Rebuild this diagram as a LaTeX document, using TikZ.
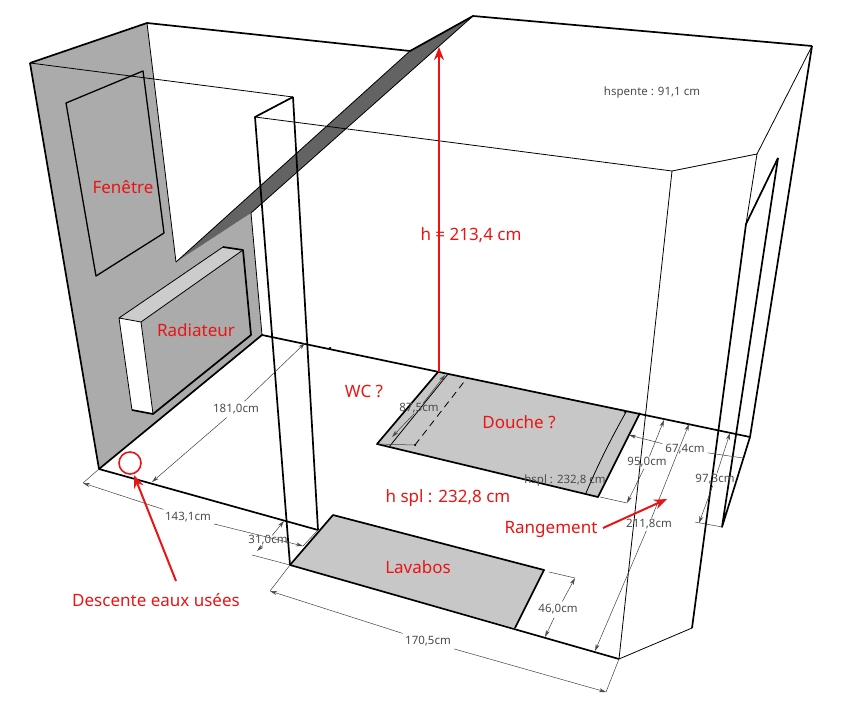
\documentclass[tikz,border=0pt]{standalone}
\usepackage{fontspec}
\setmainfont{Noto Sans}
\usetikzlibrary{arrows.meta}
\definecolor{wallgrey}{gray}{0.67}
\definecolor{floorgrey}{gray}{0.78}
\definecolor{slopegrey}{gray}{0.39}
\definecolor{lightgrey}{gray}{0.80}
\definecolor{dimtext}{gray}{0.30}
\definecolor{redmark}{RGB}{235,20,20}
\tikzset{
  thickline/.style={line width=1.7pt,black,line join=round},
  thinline/.style={line width=0.8pt,black},
  dimline/.style={line width=0.5pt,black!75,-{Stealth[length=7pt,width=4pt,black!70]}},
  extline/.style={line width=0.5pt,black!75},
  redlabel/.style={text=redmark,font=\fontsize{17}{20}\selectfont,inner sep=0pt},
  dimlabel/.style={text=dimtext,font=\fontsize{11.5}{14}\selectfont,inner sep=3pt,yshift=-1.5pt},
  redarrow/.style={line width=2pt,redmark,-{Stealth[length=13pt,width=10pt]}},
  tickdot/.style={circle,fill=black,inner sep=0pt,minimum size=2.5pt}
}
\begin{document}
\begin{tikzpicture}[x=1pt,y=-1pt]
\useasboundingbox (0,0) rectangle (853,703);
% corner points
\coordinate (wa) at (30,63);
\coordinate (wb) at (147,23);
\coordinate (notch) at (176,262);
\coordinate (slopelow) at (251,213);
\coordinate (backc) at (262,335);
\coordinate (frontc) at (99,469);
\coordinate (slopetop) at (410,51);
\coordinate (ridge) at (473,16);
\coordinate (rc) at (812,46);
\coordinate (rm) at (757,154);
\coordinate (rl) at (672,171);
\coordinate (fr) at (619,659);
\coordinate (fr2) at (692,628);
\coordinate (pa) at (293,97);
\coordinate (pb) at (255,117);
\coordinate (pc) at (290,565);
\coordinate (pd) at (318,530);
\coordinate (backend) at (750,437);
\coordinate (doorbot) at (722,527);
\coordinate (doortop) at (778,158);
\coordinate (doormid) at (746,224);
% fills
\fill[wallgrey] (wa)--(wb)--(notch)--(slopelow)--(backc)--(frontc)--cycle;
\fill[slopegrey] (notch)--(slopetop)--(ridge)--(slopelow)--cycle;
% radiator
\coordinate (ra) at (119,318);\coordinate (rb) at (141,322);\coordinate (rcc) at (153,414);\coordinate (rd) at (132,410);
\coordinate (re) at (223,247);\coordinate (rf) at (243,250);\coordinate (rg) at (251,335);
\fill[white] (ra)--(rb)--(rcc)--(rd)--cycle;
\fill[lightgrey] (ra)--(re)--(rf)--(rb)--cycle;
\draw[thinline] (ra)--(re) (rb)--(rf) (ra)--(rb) (ra)--(rd) (rb)--(rcc);
\draw[thickline] (re)--(rf)--(rg)--(rcc)--(rd);
% window
\draw[thickline,line width=1.3pt] (66,103)--(143,71)--(164,233)--(96,276)--cycle;
% shower
\coordinate (sa) at (438,372);\coordinate (sb) at (377,444);\coordinate (sc) at (598,497);\coordinate (sd) at (640,413);
\fill[floorgrey] (sa)--(sb)--(sc)--(sd)--cycle;
\draw[thinline] (389,447)--(448,374);
\draw[thinline,dashed,dash pattern=on 7pt off 5pt] (415,445)--(467,378);
\draw[thinline] (586,493) .. controls (600,460) and (612,437) .. (626,412);
\draw[thickline] (sa)--(sb)--(sc)--(sd);
% lavabo
\coordinate (la) at (333,515);\coordinate (lb) at (544,570);\coordinate (lc) at (515,628);
\fill[floorgrey] (pc)--(la)--(lb)--(lc)--cycle;
\draw[thickline] (pc)--(la)--(lb)--(lc);
% room outlines
\draw[thinline] (wa)--(pa) (pb)--(rl)--(rm)--(rc) (rl)--(fr) (rm)--(doormid);
\draw[thinline] (wb)--(notch) (slopelow)--(backc);
\draw[thinline] (notch)--(slopetop) (ridge)--(slopelow);
\draw[thickline] (wa)--(wb)--(slopetop)--(ridge)--(rc);
\draw[thickline] (wa)--(frontc)--(backc)--(backend);
\draw[thickline] (frontc)--(pd);
\draw[thickline] (pc)--(fr);
\draw[thinline] (fr)--(fr2);
\draw[thickline] (pa)--(pb)--(pc) (pa)--(pd);
\draw[thickline] (doortop)--(doormid)--(fr2);
\draw[thickline] (doortop)--(doorbot)--(backend)--(rc);
% small marks on the lines
\node[tickdot] (t1) at (330,348) {};
\node[tickdot] (t2) at (357,355) {};
\node[tickdot] (t3) at (467,378) {};
\node[tickdot] (t4) at (415,445) {};
\node[tickdot] (t5) at (625,412) {};
% dimension labels
\node[dimlabel] (d181) at (236,408) {181,0cm};
\node[dimlabel] (d143) at (188,516) {143,1cm};
\node[dimlabel,inner sep=0pt] (d31) at (268,539) {31,0cm};
\node[dimlabel] (d170) at (428,640) {170,5cm};
\node[dimlabel] (d46) at (558,608) {46,0cm};
\node[dimlabel,inner sep=1pt] (d211) at (649,523) {211,8cm};
\node[dimlabel,inner sep=1pt] (d95) at (647,461) {95,0cm};
\node[dimlabel] (d67) at (685,448) {67,4cm};
\node[dimlabel,inner sep=1pt] (d97) at (715,478) {97,3cm};
\node[dimlabel,inner sep=0pt] (d87) at (419,407) {87,5cm};
\node[dimlabel,inner sep=0pt] (hs) at (565,479) {hspl : 232,8 cm};
\node[dimlabel,inner sep=0pt] (hp) at (652,91) {hspente : 91,1 cm};
% dimension end points
\coordinate (c1a) at (152,482);\coordinate (c1b) at (305,343);
\coordinate (c2a) at (83,483);\coordinate (c2b) at (303,546);
\coordinate (c3a) at (257,551);\coordinate (c3b) at (284,521);\coordinate (c3c) at (252,555);
\coordinate (c4a) at (270,591);\coordinate (c4b) at (606,692);
\coordinate (c5a) at (575,578);\coordinate (c5b) at (545,637);\coordinate (c5c) at (549,572);
\coordinate (c6a) at (689,424);\coordinate (c6b) at (595,651);
\coordinate (c7a) at (664,420);\coordinate (c7b) at (627,503);\coordinate (c7c) at (600,497);
\coordinate (c8a) at (629,435);\coordinate (c8b) at (743,458);
\coordinate (c9a) at (730,433);\coordinate (c9b) at (699,523);\coordinate (c9c) at (695,522);
\coordinate (c0a) at (445,375);\coordinate (c0b) at (392,437);
\draw[dimline] (d181)--(c1a); \draw[dimline] (d181)--(c1b);
\draw[dimline] (d143)--(c2a); \draw[dimline] (d143)--(c2b);
\draw[dimline] (d31)--(c3a); \draw[dimline] (d31)--(c3b);
\draw[dimline] (d170)--(c4a); \draw[dimline] (d170)--(c4b);
\draw[dimline] (d46)--(c5a); \draw[dimline] (d46)--(c5b);
\draw[dimline] (d211)--(c6a); \draw[dimline] (d211)--(c6b);
\draw[dimline] (d95)--(c7a); \draw[dimline] (d95)--(c7b);
\draw[dimline] (d67)--(c8a); \draw[extline] (d67)--(c8b);
\draw[dimline] (d97)--(c9a); \draw[dimline] (d97)--(c9b);
\draw[dimline] (d87)--(c0a); \draw[dimline] (d87)--(c0b);
% extension lines
\draw[extline] (c2a)--(frontc) (c2b)--(pd) (c3c)--(pc) (c4a)--(pc) (c4b)--(fr) (c5c)--(c5a) (c7c)--(c7b) (c9c)--(doorbot) (sb)--(t4);
% red marks
\coordinate (hfoot) at (439,372);
\coordinate (htop) at (439,47);
\draw[redarrow] (hfoot)--(htop);
\node[redlabel] (fen) at (123,187) {Fenêtre};
\node[redlabel] (rad) at (196,330) {Radiateur};
\node[redlabel] (wc) at (364,391) {WC ?};
\node[redlabel] (dou) at (519,422) {Douche ?};
\node[redlabel,yshift=-2pt] (hspl) at (448,496) {h spl : 232,8 cm};
\node[redlabel,yshift=-1pt] (ran) at (551,528) {Rangement};
\node[redlabel] (lav) at (418,567) {Lavabos};
\node[redlabel] (des) at (156,600) {Descente eaux usées};
\node[redlabel,yshift=-2pt] (hh) at (471,233) {h = 213,4 cm};
\node[circle,draw=redmark,line width=1.6pt,minimum size=22pt,inner sep=0pt] (drain) at (130,463) {};
\coordinate (desfoot) at (176,581);
\coordinate (drainarrow) at (134,475);
\draw[redarrow] (desfoot)--(drainarrow);
\coordinate (ranfoot) at (603,528);
\coordinate (rantip) at (667,499);
\draw[redarrow] (ranfoot)--(rantip);
\end{tikzpicture}
\end{document}
